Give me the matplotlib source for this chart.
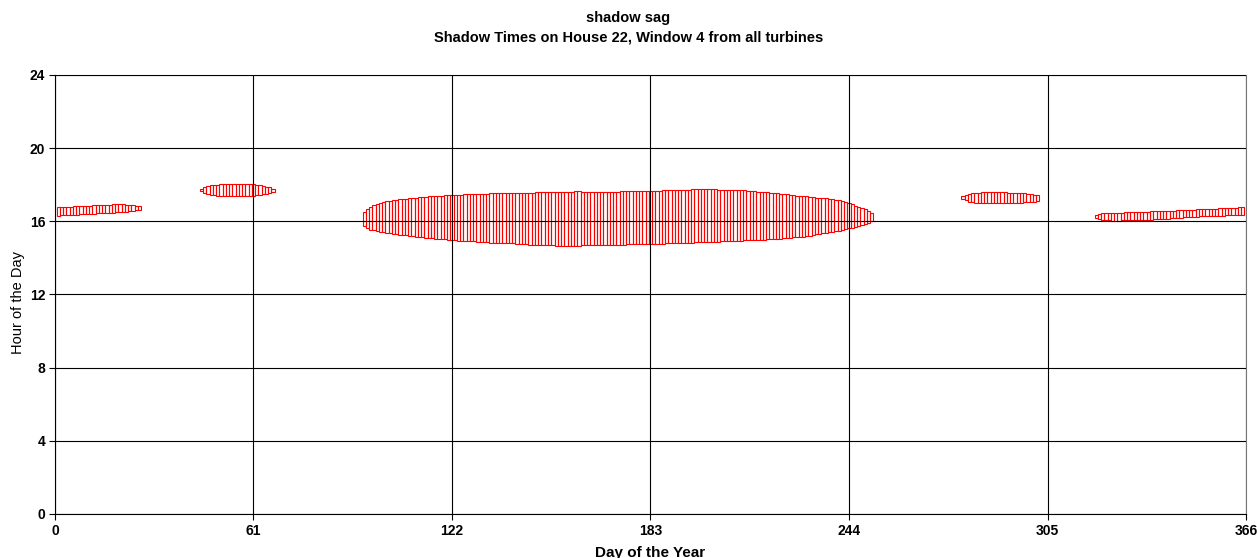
import matplotlib
matplotlib.use("Agg")
import matplotlib.pyplot as plt
import numpy as np

plt.rcParams['font.family'] = ['Liberation Sans', 'DejaVu Sans']

# Shadow periods: first day of each period, then per-day start / end hour
p1_first = 1
p1_start = [16.31, 16.32, 16.33, 16.34, 16.35, 16.36, 16.37, 16.38, 16.39, 16.40,
            16.41, 16.42, 16.43, 16.44, 16.45, 16.46, 16.47, 16.48, 16.49, 16.50,
            16.52, 16.53, 16.55, 16.57, 16.60, 16.64]
p1_end = [16.77, 16.78, 16.79, 16.80, 16.81, 16.82, 16.83, 16.83, 16.84, 16.85,
          16.86, 16.87, 16.88, 16.89, 16.90, 16.91, 16.91, 16.92, 16.92, 16.92,
          16.92, 16.91, 16.90, 16.89, 16.86, 16.82]

p2_first = 45
p2_start = [17.64, 17.55, 17.49, 17.45, 17.42, 17.40, 17.39, 17.38, 17.38, 17.37,
            17.37, 17.37, 17.37, 17.38, 17.38, 17.39, 17.40, 17.42, 17.44, 17.47,
            17.51, 17.56, 17.62]
p2_end = [17.78, 17.87, 17.93, 17.97, 17.99, 18.01, 18.02, 18.03, 18.04, 18.04,
          18.05, 18.05, 18.05, 18.04, 18.04, 18.03, 18.02, 18.00, 17.97, 17.94,
          17.90, 17.85, 17.78]

p3_first = 95
p3_start = [15.72, 15.62, 15.55, 15.50, 15.46,
            15.43, 15.40, 15.37, 15.34, 15.31, 15.29, 15.27, 15.25, 15.23, 15.21, 15.19, 15.17, 15.15,
            15.13, 15.11, 15.09, 15.07, 15.05, 15.04, 15.02, 15.01, 14.99,
            14.97, 14.96, 14.95, 14.94, 14.93, 14.92, 14.91, 14.90, 14.88, 14.87, 14.86, 14.85, 14.84, 14.84, 14.83,
            14.82, 14.81, 14.80, 14.79, 14.79, 14.78, 14.77, 14.75, 14.74, 14.73, 14.72, 14.71, 14.69, 14.69, 14.68,
            14.68, 14.68, 14.67, 14.67, 14.67, 14.67, 14.67, 14.67, 14.67, 14.67, 14.68, 14.68, 14.68, 14.68, 14.68, 14.69,
            14.69, 14.70, 14.70, 14.71, 14.71, 14.72, 14.73, 14.73, 14.74, 14.74, 14.75, 14.75, 14.75, 14.76, 14.76, 14.76,
            14.76, 14.77, 14.77, 14.78, 14.79, 14.80, 14.80, 14.80, 14.81, 14.82, 14.83, 14.84, 14.84, 14.85,
            14.85, 14.85, 14.86, 14.86, 14.87, 14.88, 14.89, 14.90, 14.91, 14.92, 14.92, 14.93, 14.94,
            14.95, 14.96, 14.97, 14.97, 14.98, 14.98, 14.99, 15.00, 15.01, 15.02,
            15.03, 15.05, 15.06, 15.08, 15.09, 15.11, 15.12, 15.14, 15.15, 15.16,
            15.19, 15.22, 15.25, 15.28, 15.31, 15.34, 15.37, 15.40, 15.43, 15.46, 15.49,
            15.53, 15.57, 15.61, 15.66, 15.71, 15.75, 15.79, 15.84, 15.90, 16.02]
p3_end = [16.50, 16.66, 16.78, 16.87, 16.94,
          17.00, 17.05, 17.09, 17.12, 17.15, 17.18, 17.20, 17.22, 17.24, 17.26, 17.28, 17.30, 17.32,
          17.34, 17.35, 17.37, 17.38, 17.39, 17.40, 17.41, 17.42, 17.43,
          17.45, 17.45, 17.46, 17.46, 17.47, 17.47, 17.48, 17.48, 17.49, 17.50, 17.51, 17.52, 17.53, 17.53, 17.53,
          17.53, 17.53, 17.54, 17.54, 17.55, 17.55, 17.55, 17.56, 17.56, 17.57, 17.57, 17.58, 17.58, 17.59, 17.59,
          17.59, 17.59, 17.60, 17.60, 17.60, 17.61, 17.62, 17.63, 17.64, 17.64, 17.63, 17.62, 17.62, 17.62, 17.62, 17.62,
          17.62, 17.62, 17.63, 17.63, 17.63, 17.63, 17.64, 17.64, 17.64, 17.65, 17.65, 17.65, 17.65, 17.66, 17.66, 17.66,
          17.67, 17.67, 17.68, 17.70, 17.72, 17.73, 17.73, 17.73, 17.73, 17.72, 17.72, 17.73, 17.74, 17.75,
          17.75, 17.75, 17.75, 17.75, 17.74, 17.74, 17.73, 17.72, 17.72, 17.72, 17.71, 17.71, 17.71,
          17.70, 17.69, 17.68, 17.66, 17.65, 17.63, 17.62, 17.61, 17.59, 17.57,
          17.55, 17.53, 17.51, 17.49, 17.47, 17.45, 17.43, 17.41, 17.40, 17.38,
          17.36, 17.34, 17.32, 17.30, 17.28, 17.26, 17.25, 17.23, 17.21, 17.19, 17.16,
          17.11, 17.06, 17.00, 16.93, 16.85, 16.79, 16.72, 16.65, 16.57, 16.48]

p4_first = 279
p4_start = [17.24, 17.14, 17.08, 17.04, 17.02, 17.01, 17.00, 16.99, 16.99, 16.99,
            16.99, 16.99, 16.99, 16.99, 16.99, 17.00, 17.00, 17.01, 17.02, 17.03,
            17.04, 17.06, 17.08, 17.11]
p4_end = [17.36, 17.46, 17.51, 17.54, 17.56, 17.57, 17.58, 17.58, 17.58, 17.58,
          17.58, 17.58, 17.58, 17.58, 17.57, 17.57, 17.56, 17.55, 17.54, 17.53,
          17.51, 17.49, 17.46, 17.42]

p5_first = 320
p5_start = [16.20, 16.12, 16.08, 16.06, 16.05,
            16.04, 16.04, 16.04, 16.05, 16.05, 16.05, 16.05, 16.06, 16.06, 16.06, 16.07, 16.07,
            16.08, 16.10, 16.11, 16.13, 16.14, 16.15, 16.17, 16.18,
            16.19, 16.20, 16.22, 16.23, 16.24, 16.25, 16.26, 16.27, 16.28, 16.30,
            16.30, 16.30, 16.31, 16.31, 16.31, 16.32, 16.32, 16.32, 16.33, 16.33, 16.33]
p5_end = [16.35, 16.40, 16.43, 16.45, 16.46,
          16.47, 16.47, 16.48, 16.48, 16.49, 16.49, 16.50, 16.50, 16.51, 16.51, 16.52, 16.53,
          16.54, 16.55, 16.55, 16.56, 16.57, 16.57, 16.58, 16.59,
          16.60, 16.61, 16.62, 16.63, 16.63, 16.64, 16.65, 16.66, 16.67, 16.68,
          16.69, 16.70, 16.70, 16.71, 16.72, 16.73, 16.74, 16.75, 16.75, 16.76, 16.77]

x_ticks = [0, 61, 122, 183, 244, 305, 366]
y_ticks = [0, 4, 8, 12, 16, 20, 24]

periods = [(p1_first, p1_start, p1_end), (p2_first, p2_start, p2_end),
           (p3_first, p3_start, p3_end), (p4_first, p4_start, p4_end),
           (p5_first, p5_start, p5_end)]

fig = plt.figure(figsize=(12.57, 5.58), dpi=100)
ax = fig.add_axes([0.04375, 0.0789, 0.9475, 0.7867])

# one outlined bar per day, from shadow start to shadow end
for first, start, end in periods:
    start = np.asarray(start)
    end = np.asarray(end)
    days = np.arange(first, first + len(start))
    ax.bar(days, end - start, bottom=start, width=1.0, fill=False,
           edgecolor='#ff0000', linewidth=0.8, zorder=1)

ax.set_xlim(0, 366)
ax.set_ylim(0, 24)
ax.set_xticks(x_ticks)
ax.set_yticks(y_ticks)
ax.set_axisbelow(False)
ax.grid(True, color='black', linewidth=0.8, zorder=2.5)
for side in ['left', 'bottom', 'top', 'right']:
    ax.spines[side].set_color('black')
    ax.spines[side].set_linewidth(0.8)
ax.spines['top'].set_color('#777777')
ax.spines['right'].set_color('#777777')
ax.tick_params(axis='both', direction='out', length=4, width=0.8,
               labelsize=10, pad=3)
for lbl in ax.get_xticklabels() + ax.get_yticklabels():
    lbl.set_fontweight('bold')

ax.set_xlabel('Day of the Year', fontsize=11, fontweight='bold', labelpad=6)
fig.text(18 / 1257, 0.5 + (1 - 303 / 558 - 0.5), 'Hour of the Day', rotation=90,
         ha='center', va='center', fontsize=10.5)

fig.text(0.5, 1 - 18 / 558, 'shadow sag', ha='center', va='center',
         fontsize=10.5, fontweight='bold')
fig.text(0.5, 1 - 37 / 558, 'Shadow Times on House 22, Window 4 from all turbines',
         ha='center', va='center', fontsize=10.5, fontweight='bold')

fig.savefig('out.png', dpi=100)
